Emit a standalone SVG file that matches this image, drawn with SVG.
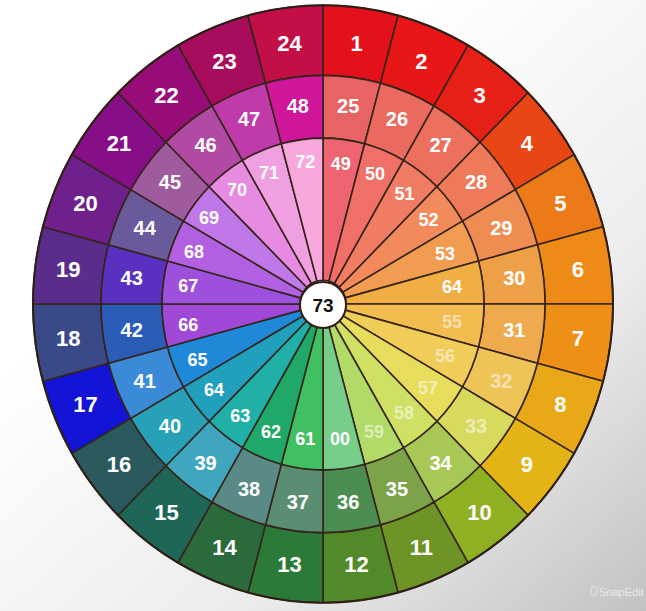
<svg xmlns="http://www.w3.org/2000/svg" xmlns:xlink="http://www.w3.org/1999/xlink" width="646" height="611" viewBox="0 0 646 611">
<style>
.seg{stroke:#35241a;stroke-width:1.6;stroke-linejoin:round}
text{font-family:"Liberation Sans",Arial,sans-serif;font-weight:bold;text-anchor:middle;dominant-baseline:central;fill:#ffffff}
.o{font-size:22px}
.m{font-size:20px}
.i{font-size:18px}
.f{fill-opacity:0.55}
.c{fill:#111111;font-size:19px}
.wm{font-size:11px;font-weight:normal;text-anchor:start;fill:#e9e9e9;dominant-baseline:auto}
</style>
<defs>
<linearGradient id="bg" x1="0.35" y1="0.3" x2="1" y2="1">
<stop offset="0" stop-color="#ffffff"/>
<stop offset="0.55" stop-color="#ececec"/>
<stop offset="1" stop-color="#c2c2c2"/>
</linearGradient>
<path id="wo" class="seg" vector-effect="non-scaling-stroke" d="M0,-290 A290,290 0 0 1 75.06,-280.12 L57.46,-214.44 A222,222 0 0 0 0,-222 Z"/>
<path id="wm" class="seg" vector-effect="non-scaling-stroke" d="M0,-222 A222,222 0 0 1 57.46,-214.44 L41.67,-155.51 A161,161 0 0 0 0,-161 Z"/>
<path id="wi" class="seg" vector-effect="non-scaling-stroke" d="M0,-161 A161,161 0 0 1 41.67,-155.51 L5.95,-22.22 A23,23 0 0 0 0,-23 Z"/>
</defs>
<rect width="646" height="611" fill="url(#bg)"/>
<g id="outer-ring">
<g id="s1"><use href="#wo" transform="translate(323,304) scale(1,1.03) rotate(0)" fill="#e4101c"/><text class="o" x="356.5" y="43.3">1</text></g>
<g id="s2"><use href="#wo" transform="translate(323,304) scale(1,1.03) rotate(15)" fill="#e81616"/><text class="o" x="421.4" y="61">2</text></g>
<g id="s3"><use href="#wo" transform="translate(323,304) scale(1,1.03) rotate(30)" fill="#e62016"/><text class="o" x="479.5" y="95.3">3</text></g>
<g id="s4"><use href="#wo" transform="translate(323,304) scale(1,1.03) rotate(45)" fill="#e84614"/><text class="o" x="526.9" y="143.9">4</text></g>
<g id="s5"><use href="#wo" transform="translate(323,304) scale(1,1.03) rotate(60)" fill="#ec7a18"/><text class="o" x="560.4" y="203.4">5</text></g>
<g id="s6"><use href="#wo" transform="translate(323,304) scale(1,1.03) rotate(75)" fill="#ee8a16"/><text class="o" x="577.8" y="269.7">6</text></g>
<g id="s7"><use href="#wo" transform="translate(323,304) scale(1,1.03) rotate(90)" fill="#ee9016"/><text class="o" x="577.8" y="338.3">7</text></g>
<g id="s8"><use href="#wo" transform="translate(323,304) scale(1,1.03) rotate(105)" fill="#e8a818"/><text class="o" x="560.4" y="404.6">8</text></g>
<g id="s9"><use href="#wo" transform="translate(323,304) scale(1,1.03) rotate(120)" fill="#e4b416"/><text class="o" x="526.9" y="464.1">9</text></g>
<g id="s10"><use href="#wo" transform="translate(323,304) scale(1,1.03) rotate(135)" fill="#8eb022"/><text class="o" x="479.5" y="512.7">10</text></g>
<g id="s11"><use href="#wo" transform="translate(323,304) scale(1,1.03) rotate(150)" fill="#6e9428"/><text class="o" x="421.4" y="547">11</text></g>
<g id="s12"><use href="#wo" transform="translate(323,304) scale(1,1.03) rotate(165)" fill="#528a2a"/><text class="o" x="356.5" y="564.7">12</text></g>
<g id="s13"><use href="#wo" transform="translate(323,304) scale(1,1.03) rotate(180)" fill="#2c7a38"/><text class="o" x="289.5" y="564.7">13</text></g>
<g id="s14"><use href="#wo" transform="translate(323,304) scale(1,1.03) rotate(195)" fill="#2a6a3c"/><text class="o" x="224.6" y="547">14</text></g>
<g id="s15"><use href="#wo" transform="translate(323,304) scale(1,1.03) rotate(210)" fill="#1e6658"/><text class="o" x="166.5" y="512.7">15</text></g>
<g id="s16"><use href="#wo" transform="translate(323,304) scale(1,1.03) rotate(225)" fill="#2a5a5e"/><text class="o" x="119.1" y="464.1">16</text></g>
<g id="s17"><use href="#wo" transform="translate(323,304) scale(1,1.03) rotate(240)" fill="#1414d6"/><text class="o" x="85.6" y="404.6">17</text></g>
<g id="s18"><use href="#wo" transform="translate(323,304) scale(1,1.03) rotate(255)" fill="#3a4a88"/><text class="o" x="68.2" y="338.3">18</text></g>
<g id="s19"><use href="#wo" transform="translate(323,304) scale(1,1.03) rotate(270)" fill="#5a2c8c"/><text class="o" x="68.2" y="269.7">19</text></g>
<g id="s20"><use href="#wo" transform="translate(323,304) scale(1,1.03) rotate(285)" fill="#70208c"/><text class="o" x="85.6" y="203.4">20</text></g>
<g id="s21"><use href="#wo" transform="translate(323,304) scale(1,1.03) rotate(300)" fill="#860e86"/><text class="o" x="119.1" y="143.9">21</text></g>
<g id="s22"><use href="#wo" transform="translate(323,304) scale(1,1.03) rotate(315)" fill="#980c78"/><text class="o" x="166.5" y="95.3">22</text></g>
<g id="s23"><use href="#wo" transform="translate(323,304) scale(1,1.03) rotate(330)" fill="#a80c5c"/><text class="o" x="224.6" y="61">23</text></g>
<g id="s24"><use href="#wo" transform="translate(323,304) scale(1,1.03) rotate(345)" fill="#c21046"/><text class="o" x="289.5" y="43.3">24</text></g>
</g>
<g id="middle-ring">
<g id="s25"><use href="#wm" transform="translate(323,304) scale(1,1.03) rotate(0)" fill="#e86464"/><text class="m" x="348.2" y="105.7">25</text></g>
<g id="s26"><use href="#wm" transform="translate(323,304) scale(1,1.03) rotate(15)" fill="#ea6a60"/><text class="m" x="396.9" y="119.2">26</text></g>
<g id="s27"><use href="#wm" transform="translate(323,304) scale(1,1.03) rotate(30)" fill="#ec705e"/><text class="m" x="440.5" y="145.3">27</text></g>
<g id="s28"><use href="#wm" transform="translate(323,304) scale(1,1.03) rotate(45)" fill="#ee7a58"/><text class="m" x="476.1" y="182.2">28</text></g>
<g id="s29"><use href="#wm" transform="translate(323,304) scale(1,1.03) rotate(60)" fill="#ee8c52"/><text class="m" x="501.3" y="227.5">29</text></g>
<g id="s30"><use href="#wm" transform="translate(323,304) scale(1,1.03) rotate(75)" fill="#eda046"/><text class="m" x="514.3" y="277.9">30</text></g>
<g id="s31"><use href="#wm" transform="translate(323,304) scale(1,1.03) rotate(90)" fill="#eeaa4c"/><text class="m" x="514.3" y="330.1">31</text></g>
<g id="s32"><use href="#wm" transform="translate(323,304) scale(1,1.03) rotate(105)" fill="#eec456"/><text class="m f" x="501.3" y="380.5">32</text></g>
<g id="s33"><use href="#wm" transform="translate(323,304) scale(1,1.03) rotate(120)" fill="#d8da5e"/><text class="m f" x="476.1" y="425.8">33</text></g>
<g id="s34"><use href="#wm" transform="translate(323,304) scale(1,1.03) rotate(135)" fill="#a8c856"/><text class="m" x="440.5" y="462.7">34</text></g>
<g id="s35"><use href="#wm" transform="translate(323,304) scale(1,1.03) rotate(150)" fill="#7ca24a"/><text class="m" x="396.9" y="488.8">35</text></g>
<g id="s36"><use href="#wm" transform="translate(323,304) scale(1,1.03) rotate(165)" fill="#4c8e52"/><text class="m" x="348.2" y="502.3">36</text></g>
<g id="s37"><use href="#wm" transform="translate(323,304) scale(1,1.03) rotate(180)" fill="#5a8e72"/><text class="m" x="297.8" y="502.3">37</text></g>
<g id="s38"><use href="#wm" transform="translate(323,304) scale(1,1.03) rotate(195)" fill="#5a8a88"/><text class="m" x="249.1" y="488.8">38</text></g>
<g id="s39"><use href="#wm" transform="translate(323,304) scale(1,1.03) rotate(210)" fill="#40a6be"/><text class="m" x="205.5" y="462.7">39</text></g>
<g id="s40"><use href="#wm" transform="translate(323,304) scale(1,1.03) rotate(225)" fill="#28a0b8"/><text class="m" x="169.9" y="425.8">40</text></g>
<g id="s41"><use href="#wm" transform="translate(323,304) scale(1,1.03) rotate(240)" fill="#3a8ad8"/><text class="m" x="144.7" y="380.5">41</text></g>
<g id="s42"><use href="#wm" transform="translate(323,304) scale(1,1.03) rotate(255)" fill="#2a5cb8"/><text class="m" x="131.7" y="330.1">42</text></g>
<g id="s43"><use href="#wm" transform="translate(323,304) scale(1,1.03) rotate(270)" fill="#5a30c0"/><text class="m" x="131.7" y="277.9">43</text></g>
<g id="s44"><use href="#wm" transform="translate(323,304) scale(1,1.03) rotate(285)" fill="#6a5a9c"/><text class="m" x="144.7" y="227.5">44</text></g>
<g id="s45"><use href="#wm" transform="translate(323,304) scale(1,1.03) rotate(300)" fill="#a05a9e"/><text class="m" x="169.9" y="182.2">45</text></g>
<g id="s46"><use href="#wm" transform="translate(323,304) scale(1,1.03) rotate(315)" fill="#b04aa2"/><text class="m" x="205.5" y="145.3">46</text></g>
<g id="s47"><use href="#wm" transform="translate(323,304) scale(1,1.03) rotate(330)" fill="#c03aaa"/><text class="m" x="249.1" y="119.2">47</text></g>
<g id="s48"><use href="#wm" transform="translate(323,304) scale(1,1.03) rotate(345)" fill="#d0169a"/><text class="m" x="297.8" y="105.7">48</text></g>
</g>
<g id="inner-ring">
<g id="s49"><use href="#wi" transform="translate(323,304) scale(1,1.03) rotate(0)" fill="#ee6470"/><text class="i" x="340.7" y="163.5">49</text></g>
<g id="s50"><use href="#wi" transform="translate(323,304) scale(1,1.03) rotate(15)" fill="#f07068"/><text class="i" x="375" y="173.5">50</text></g>
<g id="s51"><use href="#wi" transform="translate(323,304) scale(1,1.03) rotate(30)" fill="#f07c64"/><text class="i" x="404.5" y="193.5">51</text></g>
<g id="s52"><use href="#wi" transform="translate(323,304) scale(1,1.03) rotate(45)" fill="#f28a5c"/><text class="i" x="428.5" y="220">52</text></g>
<g id="s53"><use href="#wi" transform="translate(323,304) scale(1,1.03) rotate(60)" fill="#f29c52"/><text class="i" x="445" y="254">53</text></g>
<g id="s54"><use href="#wi" transform="translate(323,304) scale(1,1.03) rotate(75)" fill="#f0ae44"/><text class="i" x="452" y="287">64</text></g>
<g id="s55"><use href="#wi" transform="translate(323,304) scale(1,1.03) rotate(90)" fill="#f2bc50"/><text class="i f" x="452" y="322">55</text></g>
<g id="s56"><use href="#wi" transform="translate(323,304) scale(1,1.03) rotate(105)" fill="#f0cc58"/><text class="i f" x="445" y="356">56</text></g>
<g id="s57"><use href="#wi" transform="translate(323,304) scale(1,1.03) rotate(120)" fill="#e8dc5c"/><text class="i f" x="428" y="388" fill-opacity="0.35">57</text></g>
<g id="s58"><use href="#wi" transform="translate(323,304) scale(1,1.03) rotate(135)" fill="#d0e062"/><text class="i f" x="404" y="413">58</text></g>
<g id="s59"><use href="#wi" transform="translate(323,304) scale(1,1.03) rotate(150)" fill="#b2da66"/><text class="i f" x="374" y="432" fill-opacity="0.35">59</text></g>
<g id="s60"><use href="#wi" transform="translate(323,304) scale(1,1.03) rotate(165)" fill="#76ce8a"/><text class="i" x="340" y="439">00</text></g>
<g id="s61"><use href="#wi" transform="translate(323,304) scale(1,1.03) rotate(180)" fill="#40c060"/><text class="i" x="305.3" y="439">61</text></g>
<g id="s62"><use href="#wi" transform="translate(323,304) scale(1,1.03) rotate(195)" fill="#20a868"/><text class="i" x="271" y="432">62</text></g>
<g id="s63"><use href="#wi" transform="translate(323,304) scale(1,1.03) rotate(210)" fill="#20b0a8"/><text class="i" x="240.2" y="416">63</text></g>
<g id="s64"><use href="#wi" transform="translate(323,304) scale(1,1.03) rotate(225)" fill="#20a0bc"/><text class="i" x="214" y="390">64</text></g>
<g id="s65"><use href="#wi" transform="translate(323,304) scale(1,1.03) rotate(240)" fill="#2088d8"/><text class="i" x="197.4" y="360">65</text></g>
<g id="s66"><use href="#wi" transform="translate(323,304) scale(1,1.03) rotate(255)" fill="#a048d8"/><text class="i" x="188.2" y="325">66</text></g>
<g id="s67"><use href="#wi" transform="translate(323,304) scale(1,1.03) rotate(270)" fill="#9c50dc"/><text class="i" x="188.2" y="286">67</text></g>
<g id="s68"><use href="#wi" transform="translate(323,304) scale(1,1.03) rotate(285)" fill="#b060e0"/><text class="i" x="194" y="252">68</text></g>
<g id="s69"><use href="#wi" transform="translate(323,304) scale(1,1.03) rotate(300)" fill="#c078e8"/><text class="i" x="209" y="218">69</text></g>
<g id="s70"><use href="#wi" transform="translate(323,304) scale(1,1.03) rotate(315)" fill="#e68ae2"/><text class="i" x="237" y="190">70</text></g>
<g id="s71"><use href="#wi" transform="translate(323,304) scale(1,1.03) rotate(330)" fill="#f0a0e0"/><text class="i" x="269" y="173">71</text></g>
<g id="s72"><use href="#wi" transform="translate(323,304) scale(1,1.03) rotate(345)" fill="#f8a8dc"/><text class="i" x="305.3" y="162">72</text></g>
</g>
<g id="connectors"></g>
<ellipse cx="323" cy="304" rx="290" ry="298.7" fill="none" stroke="#2e1e16" stroke-width="2"/>
<g id="s73"><circle cx="323" cy="305" r="23" fill="#ffffff" stroke="#2e1e16" stroke-width="2"/><text class="c" x="323" y="305">73</text></g>
<g id="watermark"><rect x="591" y="587" width="6" height="8" rx="1.5" fill="none" stroke="#e6e6e6" stroke-width="1"/><text class="wm" x="599" y="596">SnapEdit</text></g>
</svg>
